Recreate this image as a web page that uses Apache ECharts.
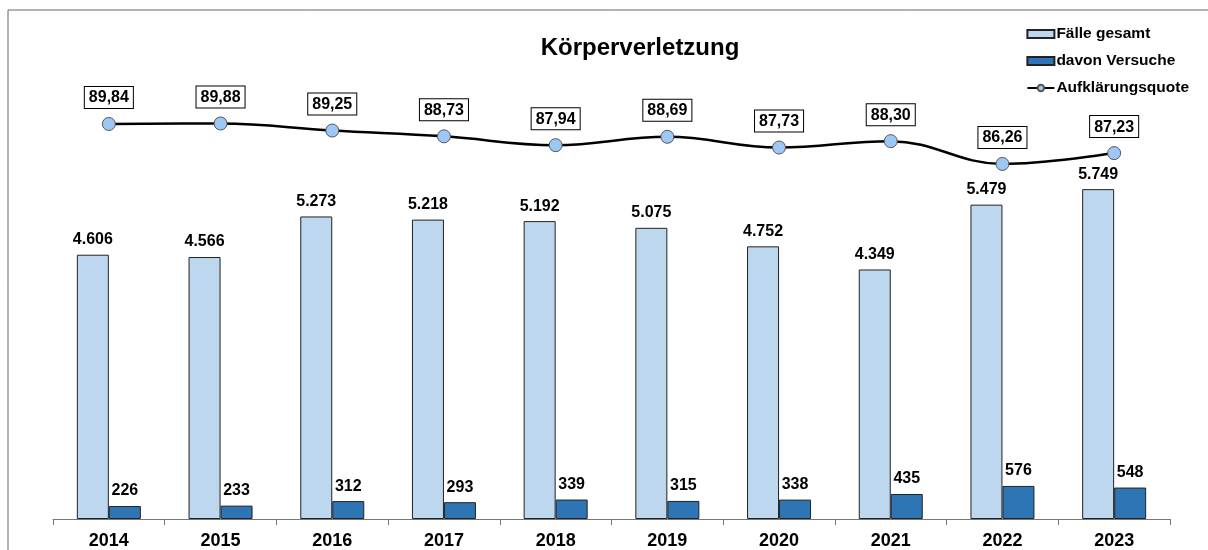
<!DOCTYPE html>
<html>
<head>
<meta charset="utf-8">
<script src="https://cdn.jsdelivr.net/npm/echarts@6/dist/echarts.min.js"></script>
<style>
  html, body { margin: 0; padding: 0; background: #fff; }
  #chart { width: 1208px; height: 550px; }
</style>
</head>
<body>
<div id="chart"></div>
<script>
// data
const years = ['2014', '2015', '2016', '2017', '2018', '2019', '2020', '2021', '2022', '2023'];
const faelle = [4606, 4566, 5273, 5218, 5192, 5075, 4752, 4349, 5479, 5749];
const versuche = [226, 233, 312, 293, 339, 315, 338, 435, 576, 548];
const quote = [89.84, 89.88, 89.25, 88.73, 87.94, 88.69, 87.73, 88.30, 86.26, 87.23];

const font = 'Liberation Sans, Arial, sans-serif';
const thousands = v => v.toLocaleString('de-DE');
const decimal = v => v.toFixed(2).replace('.', ',');

const myChart = echarts.init(document.getElementById('chart'));

const option = {
  animation: false,
  textStyle: { fontFamily: font },
  title: {
    text: 'Körperverletzung',
    left: 635,
    top: 31,
    textAlign: 'center',
    textStyle: { fontSize: 24, fontWeight: 'bold', color: '#000', fontFamily: font }
  },
  graphic: [
    {
      type: 'rect',
      shape: { x: 8, y: 10, width: 1400, height: 800 },
      style: { fill: 'none', stroke: '#666', lineWidth: 1 },
      silent: true
    }
  ],
  legend: {
    orient: 'vertical',
    right: 14,
    top: 21,
    itemGap: 11,
    itemWidth: 27,
    itemHeight: 8,
    align: 'left',
    textStyle: { fontSize: 15.5, fontWeight: 'bold', color: '#000', fontFamily: font, padding: [0, 0, 0, -3] },
    data: [
      { name: 'Fälle gesamt', icon: 'rect' },
      { name: 'davon Versuche', icon: 'rect' },
      { name: 'Aufklärungsquote' }
    ]
  },
  grid: [
    { left: 53, right: 38, top: 60, bottom: 30 },
    { left: 53, right: 38, top: 111, height: 67 }
  ],
  xAxis: [
    {
      type: 'category',
      gridIndex: 0,
      data: years,
      axisLine: { lineStyle: { color: '#777', width: 1 } },
      axisTick: { show: true, length: 6, lineStyle: { color: '#777' } },
      axisLabel: { fontSize: 18, fontWeight: 'bold', color: '#000', margin: 13 }
    },
    {
      type: 'category',
      gridIndex: 1,
      data: years,
      show: false
    }
  ],
  yAxis: [
    {
      type: 'value',
      gridIndex: 0,
      min: 0,
      max: 8000,
      show: false,
      splitLine: { show: false }
    },
    {
      type: 'value',
      gridIndex: 1,
      min: 85,
      max: 91,
      show: false,
      splitLine: { show: false }
    }
  ],
  series: [
    {
      name: 'Fälle gesamt',
      type: 'bar',
      xAxisIndex: 0,
      yAxisIndex: 0,
      data: faelle,
      barWidth: 32,
      barGap: '0%',
      itemStyle: { color: '#BDD7EE', borderColor: '#222', borderWidth: 1 },
      label: {
        show: true,
        position: 'top',
        distance: 7,
        fontSize: 16,
        fontWeight: 'bold',
        color: '#000',
        formatter: p => thousands(p.value)
      }
    },
    {
      name: 'davon Versuche',
      type: 'bar',
      xAxisIndex: 0,
      yAxisIndex: 0,
      data: versuche,
      barWidth: 32,
      barGap: '0%',
      itemStyle: { color: '#2E75B6', borderColor: '#222', borderWidth: 1 },
      label: {
        show: true,
        position: 'top',
        distance: 7,
        fontSize: 16,
        fontWeight: 'bold',
        color: '#000',
        formatter: p => thousands(p.value)
      }
    },
    {
      name: 'Aufklärungsquote',
      type: 'line',
      xAxisIndex: 1,
      yAxisIndex: 1,
      data: quote,
      smooth: 0.4,
      symbol: 'circle',
      symbolSize: 13,
      lineStyle: { color: '#000', width: 2.5 },
      itemStyle: { color: '#9DC8F5', borderColor: '#555', borderWidth: 1 },
      label: {
        show: true,
        position: 'top',
        distance: 9,
        fontSize: 16,
        fontWeight: 'bold',
        color: '#000',
        backgroundColor: '#fff',
        borderColor: '#000',
        borderWidth: 1,
        padding: [3, 4, 2, 4],
        formatter: p => decimal(p.value)
      }
    }
  ]
};

myChart.setOption(option);

window.addEventListener('resize', () => {
  myChart.resize();
});
</script>
</body>
</html>
